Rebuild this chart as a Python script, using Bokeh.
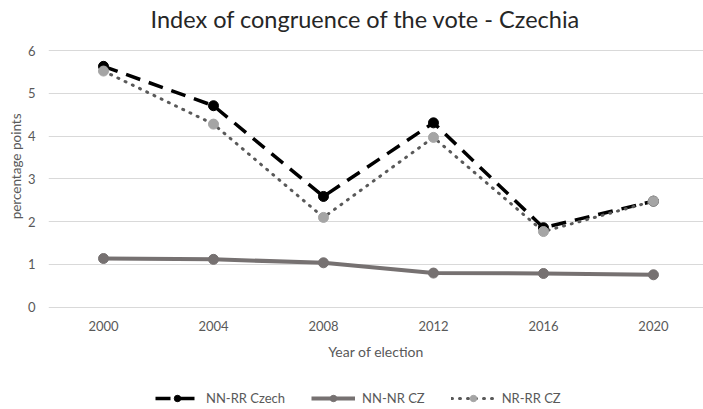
from bokeh.plotting import figure
from bokeh.models import Legend, LegendItem, Range1d, FixedTicker, Title
from bokeh.embed import file_html
from bokeh.resources import INLINE

years = [2000, 2004, 2008, 2012, 2016, 2020]
nn_rr_czech = [5.63, 4.71, 2.59, 4.31, 1.86, 2.48]
nn_nr_cz = [1.14, 1.12, 1.04, 0.80, 0.79, 0.76]
nr_rr_cz = [5.52, 4.28, 2.10, 3.97, 1.77, 2.48]
y_ticks = [0, 1, 2, 3, 4, 5, 6]

FONT = "Lato"
TXT = "#595959"

p = figure(width=703, height=409, output_backend="svg", toolbar_location=None,
           x_range=Range1d(1998, 2021.82), y_range=Range1d(-2.388, 6.374),
           min_border_left=48, min_border_right=0, min_border_top=34, min_border_bottom=0)
p.outline_line_color = None
p.background_fill_color = "white"
p.border_fill_color = "white"

p.title.text = "Index of congruence of the vote - Czechia"
p.title.align = "left"
p.title.offset = 102
p.title.vertical_align = "bottom"
p.title.standoff = 4
p.title.text_font = FONT
p.title.text_font_size = "23.5px"
p.title.text_font_style = "normal"
p.title.text_color = "#262626"

ylab = Title(text="percentage points", align="right", offset=79, standoff=2,
             text_font=FONT, text_font_size="13.5px", text_font_style="normal",
             text_color=TXT)
p.add_layout(ylab, "left")

p.xaxis.ticker = FixedTicker(ticks=years)
p.yaxis.ticker = FixedTicker(ticks=y_ticks)
p.xaxis.fixed_location = 0
for ax in (p.xaxis, p.yaxis):
    ax.axis_line_color = None
    ax.major_tick_line_color = None
    ax.minor_tick_line_color = None
    ax.major_tick_out = 0
    ax.major_tick_in = 0
    ax.minor_tick_out = 0
    ax.minor_tick_in = 0
    ax.major_label_text_font = FONT
    ax.major_label_text_font_size = "13px"
    ax.major_label_text_color = TXT
    ax.axis_label_text_font = FONT
    ax.axis_label_text_font_size = "14px"
    ax.axis_label_text_font_style = "normal"
    ax.axis_label_text_color = TXT
p.xaxis.axis_label = "Year of election"
p.xaxis.major_label_standoff = 14
p.xaxis.axis_label_standoff = 8
p.yaxis.major_label_standoff = 13

p.xgrid.grid_line_color = None
p.ygrid.grid_line_color = "#d9d9d9"
p.ygrid.grid_line_width = 1

r1l = p.line(years, nn_rr_czech, line_color="black", line_width=3.5, line_dash="15 9")
r1m = p.scatter(years, nn_rr_czech, size=10, fill_color="black", line_color="black")
r2l = p.line(years, nn_nr_cz, line_color="#767171", line_width=4)
r2m = p.scatter(years, nn_nr_cz, size=10, fill_color="#767171", line_color="#767171")
r3l = p.line(years, nr_rr_cz, line_color="#595959", line_width=3, line_dash="1 7", line_cap="round")
r3m = p.scatter(years, nr_rr_cz, size=10, fill_color="#a5a5a5", line_color="#a5a5a5")

legend = Legend(items=[
    LegendItem(label="NN-RR Czech", renderers=[r1l, r1m]),
    LegendItem(label="NN-NR CZ", renderers=[r2l, r2m]),
    LegendItem(label="NR-RR CZ", renderers=[r3l, r3m]),
], orientation="horizontal", location=(107, 3))
legend.glyph_width = 44
legend.glyph_height = 16
legend.label_text_font = FONT
legend.label_text_font_size = "13px"
legend.label_text_color = TXT
legend.border_line_color = None
legend.background_fill_alpha = 0
legend.spacing = 26
legend.margin = 0
legend.padding = 0
legend.label_standoff = 7
p.add_layout(legend, "center")

open("out.html", "w").write(file_html(p, INLINE))
